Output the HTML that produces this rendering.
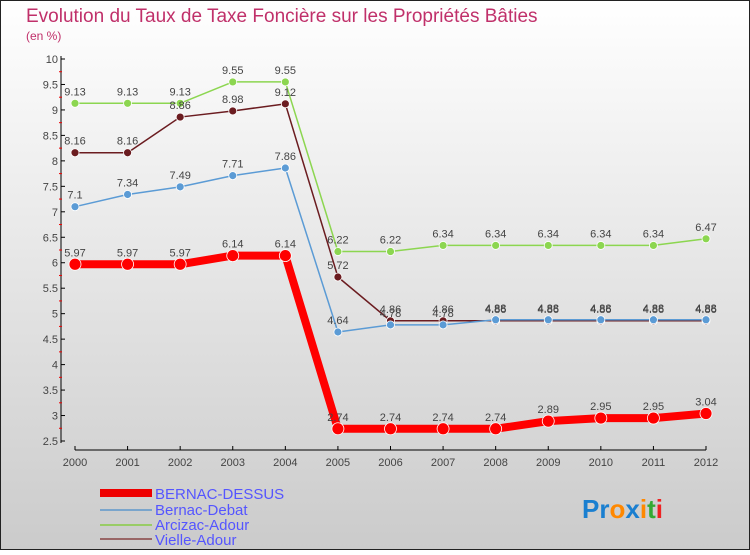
<!DOCTYPE html>
<html><head><meta charset="utf-8"><style>
body{margin:0;width:750px;height:550px;overflow:hidden;font-family:"Liberation Sans",sans-serif}
</style></head><body>
<svg width="750" height="550" xmlns="http://www.w3.org/2000/svg">
<defs><linearGradient id="bg" x1="0" y1="0" x2="0" y2="1"><stop offset="0" stop-color="#fff"/><stop offset="1" stop-color="#cbcbcb"/></linearGradient></defs>
<rect x="0.5" y="0.5" width="749" height="549" fill="url(#bg)" stroke="#222"/>
<text x="26" y="22" font-size="19" fill="#c0306a">Evolution du Taux de Taxe Foncière sur les Propriétés Bâties</text>
<text x="26" y="40" font-size="12" fill="#c0306a">(en %)</text>
<g id="axes"></g>
<g id="series"></g>
<g id="legend">
<rect x="100" y="489" width="52" height="8" fill="#e00"/>
<text x="155" y="499" font-size="15" fill="#55f">BERNAC-DESSUS</text>
<rect x="100" y="509" width="52" height="2" fill="#7aa5cc"/>
<text x="155" y="515" font-size="15" fill="#55f">Bernac-Debat</text>
<rect x="100" y="524" width="52" height="2" fill="#9c6"/>
<text x="155" y="530" font-size="15" fill="#55f">Arcizac-Adour</text>
<rect x="100" y="538" width="52" height="2" fill="#966"/>
<text x="155" y="545" font-size="15" fill="#55f">Vielle-Adour</text>
</g>
<text x="582" y="518" font-size="26" font-weight="bold"><tspan fill="#1a7fd0">Pr</tspan><tspan fill="#f80">o</tspan><tspan fill="#1a7fd0">x</tspan><tspan fill="#f80">i</tspan><tspan fill="#3a3">t</tspan><tspan fill="#e22">i</tspan></text>
</svg>
<script>
const years=["2000","2001","2002","2003","2004","2005","2006","2007","2008","2009","2010","2011","2012"];
const yTicks=[2.5,3,3.5,4,4.5,5,5.5,6,6.5,7,7.5,8,8.5,9,9.5,10];
const bernacDessus=[5.97,5.97,5.97,6.14,6.14,2.74,2.74,2.74,2.74,2.89,2.95,2.95,3.04];
const bernacDebat=[7.1,7.34,7.49,7.71,7.86,4.64,4.78,4.78,4.88,4.88,4.88,4.88,4.88];
const arcizacAdour=[9.13,9.13,9.13,9.55,9.55,6.22,6.22,6.34,6.34,6.34,6.34,6.34,6.47];
const vielleAdour=[8.16,8.16,8.86,8.98,9.12,5.72,4.86,4.86,4.86,4.86,4.86,4.86,4.86];
const NS="http://www.w3.org/2000/svg";
const x=i=>75+i*(706-75)/(years.length-1);
const y=v=>441-(v-2.5)*(441-59)/7.5;
function mk(t,a,p){const e=document.createElementNS(NS,t);for(const k in a)e.setAttribute(k,a[k]);p.appendChild(e);return e;}
const ax=document.getElementById('axes');
let l=mk('line',{x1:61,y1:56,x2:61,y2:443,stroke:'#000'},ax);


yTicks.forEach(v=>{
 mk('line',{x1:61,y1:y(v),x2:65,y2:y(v),stroke:'#000'},ax);
 if(v<10){mk('line',{x1:59,y1:y(v+0.25),x2:62,y2:y(v+0.25),stroke:'#e00'},ax);}
 const t=mk('text',{x:58,y:y(v)+4,'font-size':11,fill:'#444','text-anchor':'end'},ax);t.textContent=v;
 
 
});
l=mk('line',{x1:75,y1:450,x2:706,y2:450,stroke:'#000'},ax);


years.forEach((yr,i)=>{
 mk('line',{x1:x(i),y1:446,x2:x(i),y2:450,stroke:'#000'},ax);
 const t=mk('text',{x:x(i),y:466,'font-size':11,fill:'#444','text-anchor':'middle'},ax);t.textContent=yr;
 
 
});
const sg=document.getElementById('series');
function draw(data,color,w,r,name){
 const g=mk('g',{},sg);
 
 
 const p=mk('polyline',{points:data.map((v,i)=>x(i)+','+y(v)).join(' '),fill:'none',stroke:color,'stroke-width':w,'stroke-linejoin':'round'},g);
 
 
 data.forEach((v,i)=>{
  const c=mk('circle',{cx:x(i),cy:y(v),r:r,fill:color,stroke:'#fff','stroke-width':0.8},g);
  
  
  const t=mk('text',{x:x(i),y:y(v)-8,'font-size':11,fill:'#444','text-anchor':'middle'},g);t.textContent=v;
  
  
 });
}
draw(arcizacAdour,'#8cd650',1.5,4,'arcizac-adour');
draw(vielleAdour,'#6b1c20',1.5,4,'vielle-adour');
draw(bernacDebat,'#5b9bd5',1.5,4,'bernac-debat');
draw(bernacDessus,'#f00',8,6,'bernac-dessus');
</script>
</body></html>
